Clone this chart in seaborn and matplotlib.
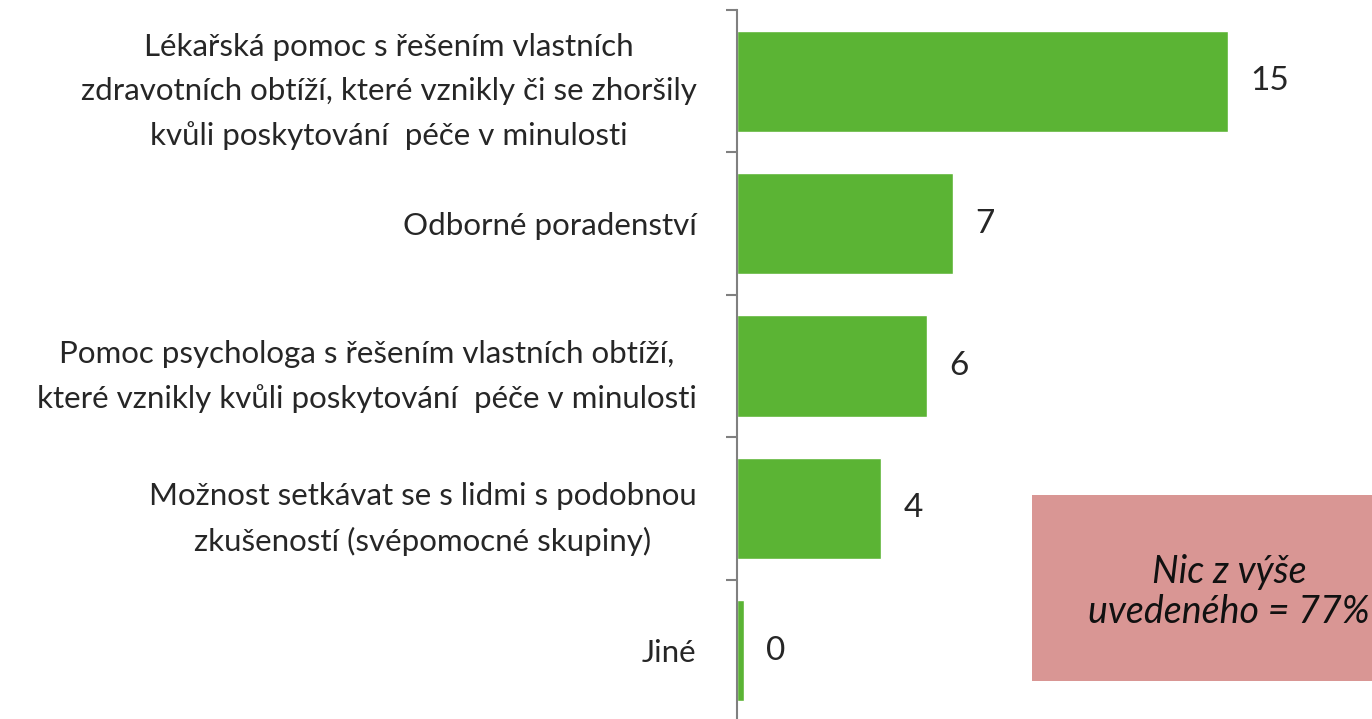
import matplotlib
matplotlib.use("Agg")
import matplotlib.pyplot as plt
import seaborn as sns
import pandas as pd
import numpy as np

# data
categories = [
    "Lékařská pomoc s řešením vlastních\nzdravotních obtíží, které vznikly či se zhoršily\nkvůli poskytování  péče v minulosti",
    "Odborné poradenství",
    "Pomoc psychologa s řešením vlastních obtíží,\nkteré vznikly kvůli poskytování  péče v minulosti",
    "Možnost setkávat se s lidmi s podobnou\nzkušeností (svépomocné skupiny)",
    "Jiné",
]
values = [15.0, 6.6, 5.8, 4.4, 0.2]
value_labels = ["15", "7", "6", "4", "0"]
note_text = "Nic z výše\nuvedeného = 77%"

sns.set_style("white")
plt.rcParams["font.family"] = ["Lato", "DejaVu Sans"]

df = pd.DataFrame({"cat": categories, "val": values})

fig = plt.figure(figsize=(13.72, 7.19), dpi=100)
ax = fig.add_axes([737 / 1372, -3 / 719, 635 / 1372, 712 / 719])

sns.barplot(data=df, x="val", y="cat", orient="h", color="#5bb434",
            width=0.71, saturation=1, ax=ax)

ax.set_xlim(0, 635 / 32.73)
ax.set_ylim(len(categories) - 0.5, -0.5)
ax.set_xlabel("")
ax.set_ylabel("")
ax.set_xticks([])

for s in ["top", "right", "bottom"]:
    ax.spines[s].set_visible(False)
ax.spines["left"].set_color("#808080")
ax.spines["left"].set_linewidth(1.5)

# category labels
ax.tick_params(axis="y", which="major", length=0, pad=29, labelsize=22.5)
for lab in ax.get_yticklabels():
    lab.set_multialignment("center")
    lab.set_linespacing(1.68)

# boundary tick marks
ax.set_yticks(np.arange(-0.5, len(categories)), minor=True)
ax.tick_params(axis="y", which="minor", left=True, length=8, width=1.5,
               color="#808080", direction="out")

ax.bar_label(ax.containers[0], labels=value_labels, padding=16, fontsize=24)

# note box
box_ax = fig.add_axes([1032 / 1372, 1 - 681 / 719, 340 / 1372, 186 / 719])
box_ax.set_facecolor("#d99694")
box_ax.set_xticks([])
box_ax.set_yticks([])
for s in box_ax.spines.values():
    s.set_visible(False)
fig.text(1229 / 1372, 1 - 592 / 719, note_text, ha="center", va="center",
         fontsize=27, style="italic", color="#111111", linespacing=1.15)

fig.savefig("out.png", dpi=100)
